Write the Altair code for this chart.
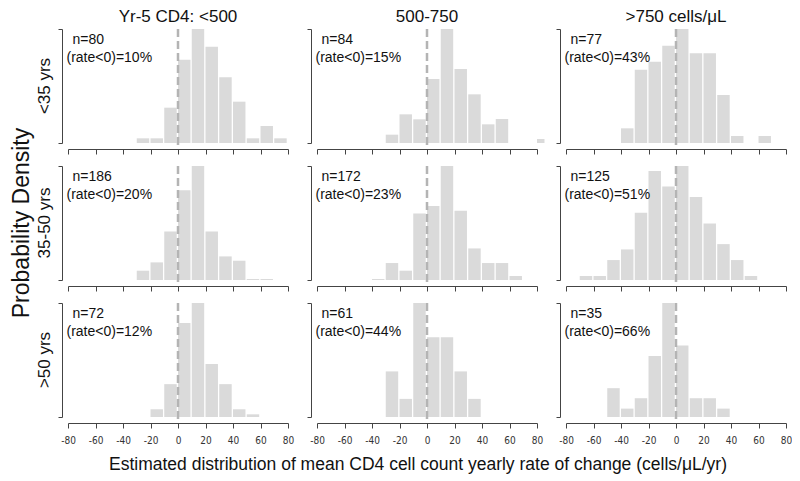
import altair as alt
import pandas as pd

# ---------------- data ----------------
ages = ["<35 yrs", "35-50 yrs", ">50 yrs"]
cd4_groups = ["Yr-5 CD4: <500", "500-750", ">750 cells/\u03bcL"]
bin_width = 10

# left edge of the first bin in each panel
first_bins = [
    [-30, -30, -40],
    [-30, -40, -70],
    [-20, -30, -50],
]

# relative density of each 10-unit bin (consecutive bins from first_bins)
densities = [
    [
        [14, 14, 106, 250, 342, 289, 197, 124, 14, 51, 14],
        [25, 86, 71, 192, 342, 222, 146, 56, 72, 0, 0, 12],
        [44, 220, 244, 292, 342, 269, 269, 144, 21, 0, 21],
    ],
    [
        [28, 53, 146, 270, 343, 146, 71, 58, 3, 3],
        [3, 51, 28, 200, 223, 343, 208, 95, 51, 51, 12],
        [12, 12, 60, 92, 202, 328, 281, 343, 250, 170, 108, 60, 12],
    ],
    [
        [23, 98, 280, 340, 158, 98, 23, 8],
        [136, 54, 340, 238, 238, 136, 54],
        [86, 25, 56, 182, 340, 213, 56, 56, 25],
    ],
]

n_obs = [[80, 84, 77], [186, 172, 125], [72, 61, 35]]
pct_negative = [[10, 15, 43], [20, 23, 51], [12, 44, 66]]

x_ticks = list(range(-80, 81, 20))
y_title = "Probability Density"
x_title = "Estimated distribution of mean CD4 cell count yearly rate of change (cells/\u03bcL/yr)"

# ---------------- styling ----------------
W, H = 220, 114
XMIN, XMAX = -80, 80
XCLIP = XMAX + 0.04 * (XMAX - XMIN)  # plot region extends 4% beyond the axis
FONT = "Liberation Sans, Arial, Helvetica, sans-serif"
TICKFONT = "Liberation Sans Narrow, Arial Narrow, DejaVu Sans Condensed, Liberation Sans, sans-serif"
BAR = "#dadada"
AXIS = "#444444"


def text_layer(txt, x, y, size, align="left", baseline="middle", angle=0):
    return alt.Chart(pd.DataFrame({"t": [txt]})).mark_text(
        align=align, baseline=baseline, fontSize=size, font=FONT,
        color="#111111", angle=angle
    ).encode(text="t:N", x=alt.value(x), y=alt.value(y))


panels = []
for i, age in enumerate(ages):
    for j, grp in enumerate(cd4_groups):
        heights = densities[i][j]
        x0 = [first_bins[i][j] + k * bin_width for k in range(len(heights))]
        df = pd.DataFrame({"x0": x0, "density": heights})

        xscale = alt.Scale(domain=[XMIN, XMAX], nice=False, zero=False)
        xaxis = alt.Axis(
            values=x_ticks, offset=6, tickSize=5, labels=(i == 2),
            labelExpr="'' + datum.value",
            labelFontSize=10, labelFont=TICKFONT, labelColor="#333333",
            labelPadding=7, labelFlush=False, labelOverlap=False, labelBound=False,
            domainColor=AXIS, tickColor=AXIS, grid=False, title=None,
        )
        yaxis = alt.Axis(
            values=[0, 1], offset=6, tickSize=4, labels=False,
            domainColor=AXIS, tickColor=AXIS, grid=False, title=None,
        )

        bars = alt.Chart(df).transform_calculate(
            x1=f"min(datum.x0 + {bin_width}, {XCLIP})"
        ).transform_joinaggregate(
            dmax="max(density)"
        ).transform_calculate(
            yn="datum.density / datum.dmax"
        ).mark_bar(color=BAR, x2Offset=-1.3).encode(
            x=alt.X("x0:Q", scale=xscale, axis=xaxis),
            x2="x1:Q",
            y=alt.Y("yn:Q", scale=alt.Scale(domain=[0, 1], nice=False), axis=yaxis),
            y2=alt.datum(0),
        )

        rule = alt.Chart(pd.DataFrame({"x0": [0]})).mark_rule(
            color="#b4b4b4", strokeWidth=2.5, strokeDash=[8, 4]
        ).encode(x=alt.X("x0:Q", scale=xscale, axis=xaxis), y=alt.value(0), y2=alt.value(H + 6))

        layers = [
            bars, rule,
            text_layer(f"n={n_obs[i][j]}", 4.5, 11, 14),
            text_layer(f"(rate<0)={pct_negative[i][j]}%", -1.5, 29, 14),
        ]
        if i == 0:
            layers.append(text_layer(grp, W / 2, -7, 17, align="center", baseline="alphabetic"))
        if j == 0:
            layers.append(text_layer(age, -23, H / 2, 17, align="center", angle=270))
        if i == 1 and j == 0:
            layers.append(text_layer(y_title, -46.5, H / 2, 23, align="center", angle=270))
        if i == 2 and j == 1:
            layers.append(text_layer(x_title, W / 2 - 9, H + 53, 17.5, align="center", baseline="alphabetic"))

        panels.append(alt.layer(*layers).properties(width=W, height=H))

chart = alt.concat(
    *panels, columns=3, spacing={"row": 23, "column": 29}, bounds="flush"
).configure_view(strokeWidth=0).properties(padding={"left": 2, "top": 0, "right": 0, "bottom": 0})

chart.save("out.html", embed_options={"renderer": "svg", "actions": False})
